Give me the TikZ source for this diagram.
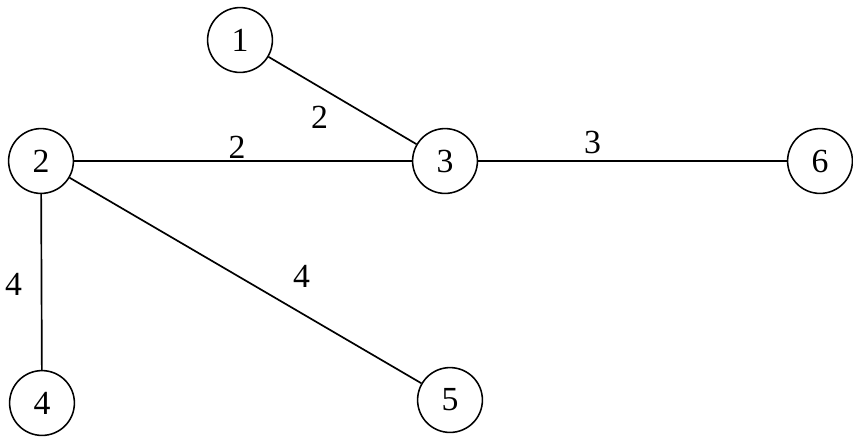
\documentclass[tikz,border=0pt]{standalone}
\usepackage{fontspec}
\setmainfont{Liberation Serif}

\begin{document}
\begin{tikzpicture}[
    x=0.025cm, y=-0.025cm,
    vertex/.style={draw, circle, line width=1.1pt, minimum size=1.62cm,
                   inner sep=0pt, font=\fontsize{24}{28}\selectfont},
    link/.style={line width=1.2pt},
    wt/.style={inner sep=0pt, font=\fontsize{24}{28}\selectfont}
]
\useasboundingbox (0,0) rectangle (853,437);

% Vertices
\node[vertex] (n1) at (240, 40)  {1};
\node[vertex] (n2) at (41, 161)  {2};
\node[vertex] (n3) at (445, 161) {3};
\node[vertex] (n6) at (820, 161) {6};
\node[vertex] (n4) at (42, 403)  {4};
\node[vertex] (n5) at (450, 400) {5};

% Weighted edges
\draw[link] (n1) -- (n3) node[wt, midway, shift={(-23,17)}]  {2};
\draw[link] (n2) -- (n3) node[wt, midway, shift={(-6,-14)}]  {2};
\draw[link] (n3) -- (n6) node[wt, midway, shift={(-40,-19)}] {3};
\draw[link] (n2) -- (n4) node[wt, midway, shift={(-28,2)}]   {4};
\draw[link] (n2) -- (n5) node[wt, midway, shift={(56,-4)}]   {4};

\end{tikzpicture}
\end{document}
